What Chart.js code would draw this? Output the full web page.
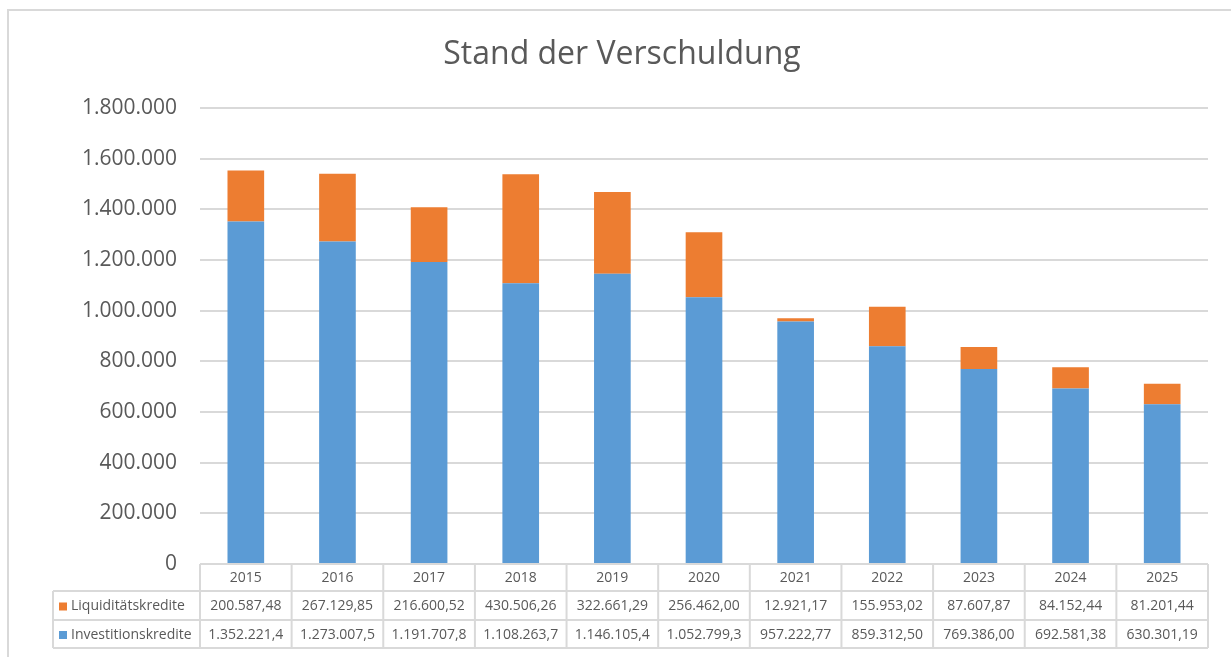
<!DOCTYPE html>
<html>
<head>
<meta charset="utf-8">
<script src="https://cdn.jsdelivr.net/npm/chart.js@4"></script>
<style>
  body { margin: 0; background: #fff; }
  canvas { display: block; }
</style>
</head>
<body>
<canvas id="barChart" width="1231" height="657"></canvas>
<script>
const ctx = document.getElementById('barChart').getContext('2d');

const years = ['2015', '2016', '2017', '2018', '2019', '2020', '2021', '2022', '2023', '2024', '2025'];
const liquiditaetskredite = [200587.48, 267129.85, 216600.52, 430506.26, 322661.29, 256462.00, 12921.17, 155953.02, 87607.87, 84152.44, 81201.44];
const investitionskredite = [1352221.40, 1273007.50, 1191707.80, 1108263.70, 1146105.40, 1052799.30, 957222.77, 859312.50, 769386.00, 692581.38, 630301.19];
const yMax = 1800000;
const yStep = 200000;
const chartTitle = 'Stand der Verschuldung';

const textColor = '#595959';
const lineColor = '#d9d9d9';
const fontFamily = '"Open Sans", "Noto Sans", sans-serif';

Chart.defaults.font.family = fontFamily;
Chart.defaults.color = textColor;

// german number format: 1.234.567,89
function formatNumber(v, decimals) {
    const parts = v.toFixed(decimals).split('.');
    const intPart = parts[0].replace(/\B(?=(\d{3})+(?!\d))/g, '.');
    return parts[1] ? intPart + ',' + parts[1] : intPart;
}

// excel cuts the text when the cell is too narrow
function fitText(c, text, maxWidth) {
    while (text.length > 1 && c.measureText(text).width > maxWidth) {
        text = text.slice(0, -1);
    }
    return text;
}

// outer frame + title (centered on the excel chart frame, not the canvas)
const framePlugin = {
    id: 'frame',
    beforeDraw(chart) {
        const c = chart.ctx;
        c.save();
        c.strokeStyle = lineColor;
        c.lineWidth = 2;
        c.beginPath();
        c.moveTo(8, chart.height);
        c.lineTo(8, 10);
        c.lineTo(chart.width, 10);
        c.stroke();

        c.fillStyle = textColor;
        c.font = '32px ' + fontFamily;
        c.textAlign = 'center';
        c.textBaseline = 'middle';
        c.fillText(chartTitle, 622, 55);
        c.restore();
    }
};

const dataTablePlugin = {
    id: 'dataTable',
    afterDraw(chart) {
        const c = chart.ctx;
        const x = chart.scales.x;
        const area = chart.chartArea;
        const catWidth = (area.right - area.left) / years.length;
        const legendLeft = 53;
        const rows = [area.bottom, area.bottom + 27, area.bottom + 56, area.bottom + 84];
        const tableRows = [
            { label: 'Liquiditätskredite', ds: chart.data.datasets[1] },
            { label: 'Investitionskredite', ds: chart.data.datasets[0] }
        ];

        c.save();
        c.strokeStyle = lineColor;
        c.lineWidth = 2;
        c.beginPath();
        // horizontal lines
        c.moveTo(area.left, rows[0]); c.lineTo(area.right, rows[0]);
        for (let r = 1; r < rows.length; r++) {
            c.moveTo(legendLeft, rows[r]); c.lineTo(area.right, rows[r]);
        }
        // vertical lines
        c.moveTo(legendLeft, rows[1]); c.lineTo(legendLeft, rows[3]);
        for (let i = 0; i <= years.length; i++) {
            const px = area.left + i * catWidth;
            c.moveTo(px, rows[0]); c.lineTo(px, rows[3]);
        }
        c.stroke();

        c.fillStyle = textColor;
        c.font = '14px ' + fontFamily;
        c.textAlign = 'center';
        c.textBaseline = 'middle';
        years.forEach((year, i) => {
            c.fillText(year, x.getPixelForValue(i), (rows[0] + rows[1]) / 2 + 1);
        });

        tableRows.forEach((row, r) => {
            const cy = (rows[r + 1] + rows[r + 2]) / 2 + 1;
            c.fillStyle = row.ds.backgroundColor;
            c.fillRect(legendLeft + 6, cy - 4, 8, 8);
            c.fillStyle = textColor;
            c.textAlign = 'left';
            c.fillText(row.label, legendLeft + 18, cy);
            c.textAlign = 'center';
            row.ds.data.forEach((v, i) => {
                const txt = fitText(c, formatNumber(v, 2), catWidth - 10);
                c.fillText(txt, x.getPixelForValue(i), cy);
            });
        });
        c.restore();
    }
};

new Chart(ctx, {
    type: 'bar',
    data: {
        labels: years,
        datasets: [
            {
                label: 'Investitionskredite',
                data: investitionskredite,
                backgroundColor: '#5b9bd5',
                borderWidth: 0,
                barPercentage: 0.4,
                categoryPercentage: 1
            },
            {
                label: 'Liquiditätskredite',
                data: liquiditaetskredite,
                backgroundColor: '#ed7d31',
                borderWidth: 0,
                barPercentage: 0.4,
                categoryPercentage: 1
            }
        ]
    },
    options: {
        responsive: false,
        animation: false,
        layout: {
            padding: { top: 108, right: 23, bottom: 93, left: 0 }
        },
        plugins: {
            legend: { display: false },
            tooltip: { enabled: false },
            title: { display: false }
        },
        scales: {
            x: {
                stacked: true,
                display: false
            },
            y: {
                stacked: true,
                min: 0,
                max: yMax,
                afterFit: scale => { scale.width = 200; },
                border: { display: false },
                grid: {
                    color: lineColor,
                    lineWidth: 2,
                    drawTicks: false
                },
                ticks: {
                    stepSize: yStep,
                    padding: 23,
                    color: textColor,
                    font: { size: 21 },
                    callback: v => formatNumber(v, 0)
                }
            }
        }
    },
    plugins: [framePlugin, dataTablePlugin]
});
</script>
</body>
</html>
